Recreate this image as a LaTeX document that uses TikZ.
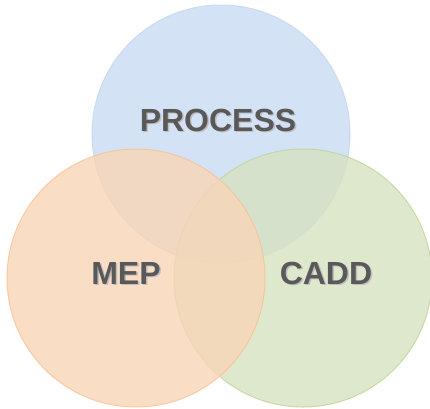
\documentclass[tikz,border=0pt]{standalone}
\usepackage{fontspec}
\setmainfont{Liberation Sans}
\definecolor{procblue}{RGB}{200,219,243}
\definecolor{mepor}{RGB}{249,213,183}
\definecolor{caddgr}{RGB}{214,226,193}
\definecolor{procedge}{RGB}{196,215,240}
\definecolor{mepedge}{RGB}{247,194,152}
\definecolor{caddedge}{RGB}{192,212,152}
\definecolor{labgray}{RGB}{89,89,89}
\begin{document}
\begin{tikzpicture}[x=1pt, y=1pt,
    set/.style = {circle, minimum size=258pt, inner sep=0pt, line width=1pt, fill opacity=0.8, draw opacity=0.8},
    lab/.style = {font=\fontsize{32}{32}\selectfont\bfseries, text=labgray, inner sep=0pt},
    labshadow/.style = {lab, text=black!25}]
    \useasboundingbox (0,0) rectangle (430,408);
    % the three sets (orange lies on top)
    \node[set, draw=procedge, fill=procblue] (process) at (221,274) {};
    \node[set, draw=caddedge, fill=caddgr] (cadd) at (303,130) {};
    \node[set, draw=mepedge, fill=mepor] (mep) at (136,130) {};
    % labels with a soft shadow
    \node[labshadow] (process shadow) at (219.5,286.5) {PROCESS};
    \node[lab] (process label) at (218,288) {PROCESS};
    \node[labshadow] (mep shadow) at (127.5,133.5) {MEP};
    \node[lab] (mep label) at (126,135) {MEP};
    \node[labshadow] (cadd shadow) at (327.5,133.5) {CADD};
    \node[lab] (cadd label) at (326,135) {CADD};
\end{tikzpicture}
\end{document}
